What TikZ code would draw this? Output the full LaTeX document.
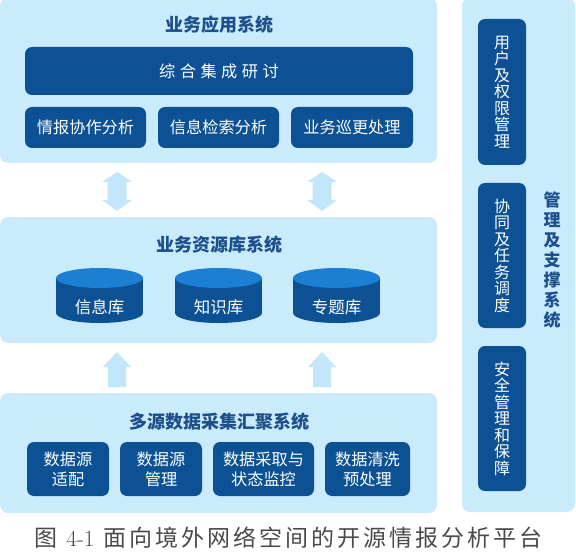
\documentclass[tikz,border=0pt]{standalone}
\usepackage{fontspec}
\setmainfont{Noto Sans CJK SC}
\definecolor{panelblue}{HTML}{C9EBFC}
\definecolor{boxblue}{HTML}{0B5194}
\definecolor{cyltop}{HTML}{1B7FD3}
\definecolor{titleblue}{HTML}{1D4F8C}
\definecolor{arrowblue}{HTML}{C3E7FA}
\definecolor{capgray}{HTML}{4A4A4A}
\newcommand{\capsp}{\hspace{3pt}}
\tikzset{
  panel/.style={fill=panelblue, rounded corners=8pt, inner sep=0pt},
  dbox/.style={fill=boxblue, rounded corners=7pt, text=white, inner sep=0pt, align=center,
    font=\fontsize{16.2}{20}\selectfont},
  vbox/.style={fill=boxblue, rounded corners=7pt, text=white, inner sep=0pt, align=center,
    font=\fontsize{16}{16.5}\selectfont},
  ptitle/.style={text=titleblue, font=\fontsize{18}{20}\selectfont\bfseries, inner sep=0pt},
  cyltext/.style={text=white, font=\fontsize{16.5}{20}\selectfont, inner sep=0pt},
  arr/.style={fill=arrowblue, draw=none}
}
\begin{document}
\begin{tikzpicture}[x=1pt,y=-1pt]
\useasboundingbox (0,0) rectangle (576,559);
% panels
\node[panel, minimum width=437pt, minimum height=165pt] (p1) at (218.5,80.5) {};
\node[panel, minimum width=437pt, minimum height=126pt] (p2) at (218.5,280) {};
\node[panel, minimum width=437pt, minimum height=120pt] (p3) at (218.5,453) {};
\node[panel, minimum width=113pt, minimum height=514pt] (p4) at (518.5,255) {};
% top panel
\node[ptitle] (t1) at (219,25) {业务应用系统};
\node[dbox, minimum width=388pt, minimum height=48pt] (bar) at (219,71)
  {综\hspace{4.5pt}合\hspace{4.5pt}集\hspace{4.5pt}成\hspace{4.5pt}研\hspace{4.5pt}讨};
\node[dbox, minimum width=121pt, minimum height=41pt] (a1) at (85.5,127.5) {情报协作分析};
\node[dbox, minimum width=121pt, minimum height=41pt] (a2) at (218.5,127.5) {信息检索分析};
\node[dbox, minimum width=122pt, minimum height=41pt] (a3) at (352,127.5) {业务巡更处理};
% middle panel
\node[ptitle] (t2) at (219,245) {业务资源库系统};
\foreach \cx/\nm/\lab in {99.5/c1/信息库, 218.5/c2/知识库, 336.5/c3/专题库}{
  \fill[boxblue] (\cx-43.5,278) rectangle (\cx+43.5,313);
  \fill[boxblue] (\cx,313) ellipse [x radius=43.5, y radius=10];
  \fill[cyltop] (\cx,278) ellipse [x radius=43.5, y radius=10];
  \node[cyltext] (\nm) at (\cx,307.5) {\lab};
}
% bottom panel
\node[ptitle] (t3) at (219,422) {多源数据采集汇聚系统};
\node[dbox, minimum width=82pt, minimum height=54pt] (b1) at (68,469) {数据源\\适配};
\node[dbox, minimum width=82pt, minimum height=54pt] (b2) at (161,469) {数据源\\管理};
\node[dbox, minimum width=101pt, minimum height=54pt] (b3) at (263.5,469) {数据采取与\\状态监控};
\node[dbox, minimum width=85pt, minimum height=54pt] (b4) at (367.5,469) {数据清洗\\预处理};
% right panel
\node[vbox, minimum width=48pt, minimum height=146pt] (r1) at (502,92) {用\\户\\及\\权\\限\\管\\理};
\node[vbox, minimum width=48pt, minimum height=145pt] (r2) at (502,255.5) {协\\同\\及\\任\\务\\调\\度};
\node[vbox, minimum width=48pt, minimum height=145pt] (r3) at (502,418.5) {安\\全\\管\\理\\和\\保\\障};
\node[ptitle, align=center, font=\fontsize{17}{20}\selectfont\bfseries] (t4) at (552,260)
  {管\\理\\及\\支\\撑\\系\\统};
% arrows
\foreach \ax in {117,322}{
  \fill[arr] (\ax,172) -- (\ax+15,182) -- (\ax+9.5,182) -- (\ax+9.5,200) -- (\ax+15,200)
    -- (\ax,211) -- (\ax-15,200) -- (\ax-9.5,200) -- (\ax-9.5,182) -- (\ax-15,182) -- cycle;
  \fill[arr] (\ax,352) -- (\ax+14,367) -- (\ax+9,367) -- (\ax+9,387) -- (\ax-9,387)
    -- (\ax-9,367) -- (\ax-14,367) -- cycle;
}
% caption
\node[text=capgray, font=\fontsize{23}{24}\selectfont, inner sep=0pt] (cap) at (288.5,538)
  {图\hspace{9pt}{\fontspec{Latin Modern Roman}4-1}\hspace{9pt}面\capsp 向\capsp 境\capsp 外\capsp 网\capsp 络\capsp 空\capsp 间\capsp 的\capsp 开\capsp 源\capsp 情\capsp 报\capsp 分\capsp 析\capsp 平\capsp 台};
\end{tikzpicture}
\end{document}
